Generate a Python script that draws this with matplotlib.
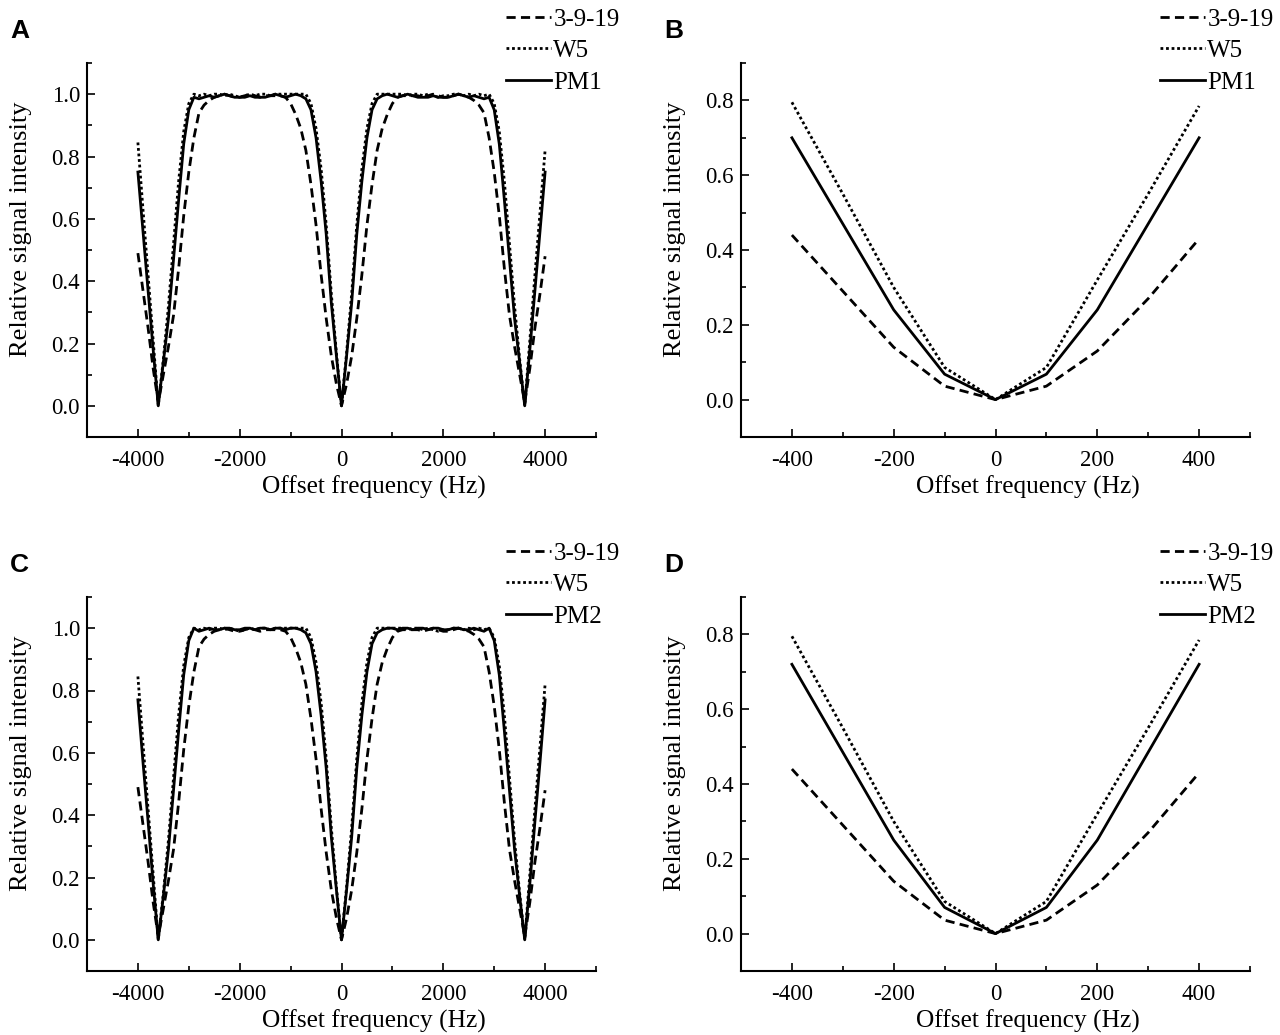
import numpy as np
import matplotlib.pyplot as plt
from matplotlib.ticker import MultipleLocator

plt.rcParams['font.family'] = ['Liberation Serif', 'DejaVu Serif']
plt.rcParams['axes.unicode_minus'] = False

# offset grid for the wide sweeps (Hz)
freq_wide = np.arange(-4000, 4001, 100)

sig_3919_wide = [
    0.49, 0.37, 0.25, 0.12, 0.01, 0.10, 0.19, 0.29, 0.44, 0.61,
    0.75, 0.86, 0.94, 0.965, 0.98, 0.99, 0.995, 1.0, 0.995, 0.99,
    0.99, 0.995, 1.0, 0.995, 0.99, 0.995, 0.995, 0.995, 0.995, 0.99,
    0.97, 0.935, 0.89, 0.82, 0.71, 0.58, 0.42, 0.28, 0.16, 0.07,
    0.0,
    0.07, 0.16, 0.28, 0.42, 0.58, 0.71, 0.82, 0.89, 0.935, 0.97,
    0.99, 0.995, 0.995, 0.995, 0.995, 0.99, 0.995, 1.0, 0.995, 0.99,
    0.99, 0.995, 1.0, 0.995, 0.99, 0.98, 0.965, 0.94, 0.86, 0.75,
    0.61, 0.44, 0.29, 0.19, 0.10, 0.01, 0.12, 0.25, 0.36, 0.48,
]
sig_w5_wide = [
    0.845, 0.63, 0.42, 0.21, 0.0, 0.15, 0.32, 0.52, 0.72, 0.88,
    0.97, 1.0, 0.995, 1.0, 0.995, 1.0, 1.0, 0.995, 1.0, 0.995,
    0.99, 0.995, 1.0, 0.995, 1.0, 1.0, 0.995, 1.0, 1.0, 1.0,
    1.0, 1.0, 1.0, 1.0, 0.97, 0.89, 0.76, 0.58, 0.36, 0.17,
    0.0,
    0.17, 0.36, 0.58, 0.76, 0.89, 0.97, 1.0, 1.0, 1.0, 1.0,
    1.0, 1.0, 0.995, 1.0, 1.0, 0.995, 1.0, 0.995, 0.99, 0.995,
    0.995, 1.0, 1.0, 0.995, 1.0, 0.995, 1.0, 0.995, 1.0, 0.97,
    0.88, 0.72, 0.52, 0.32, 0.15, 0.0, 0.21, 0.42, 0.62, 0.82,
]
sig_pm1_wide = [
    0.75, 0.56, 0.37, 0.18, 0.0, 0.14, 0.28, 0.47, 0.66, 0.84,
    0.95, 0.99, 0.985, 0.99, 0.995, 0.99, 0.995, 1.0, 0.995, 0.99,
    0.99, 0.99, 0.995, 0.99, 0.99, 0.99, 0.995, 1.0, 0.995, 0.99,
    0.995, 1.0, 0.995, 0.985, 0.95, 0.86, 0.72, 0.55, 0.33, 0.16,
    0.0,
    0.16, 0.33, 0.55, 0.72, 0.86, 0.95, 0.985, 0.995, 1.0, 0.995,
    0.99, 0.995, 1.0, 0.995, 0.99, 0.99, 0.99, 0.995, 0.99, 0.99,
    0.99, 0.995, 1.0, 0.995, 0.99, 0.995, 0.99, 0.985, 0.99, 0.95,
    0.84, 0.66, 0.47, 0.28, 0.14, 0.0, 0.18, 0.37, 0.56, 0.75,
]
sig_pm2_wide = [
    0.77, 0.57, 0.38, 0.18, 0.0, 0.14, 0.29, 0.48, 0.67, 0.85,
    0.96, 1.0, 0.99, 0.995, 1.0, 0.995, 0.995, 1.0, 1.0, 0.995,
    0.995, 1.0, 1.0, 0.995, 1.0, 1.0, 0.995, 1.0, 1.0, 0.995,
    1.0, 1.0, 0.995, 0.985, 0.95, 0.86, 0.72, 0.55, 0.33, 0.16,
    0.0,
    0.16, 0.33, 0.55, 0.72, 0.86, 0.95, 0.985, 0.995, 1.0, 1.0,
    0.995, 1.0, 1.0, 0.995, 1.0, 1.0, 0.995, 1.0, 1.0, 0.995,
    0.995, 1.0, 1.0, 0.995, 0.995, 1.0, 0.995, 0.99, 1.0, 0.96,
    0.85, 0.67, 0.48, 0.29, 0.14, 0.0, 0.18, 0.38, 0.57, 0.77,
]

# narrow sweeps (Hz)
freq_narrow = [-400, -300, -200, -100, 0, 100, 200, 300, 400]
sig_3919_narrow = [0.44, 0.29, 0.14, 0.036, 0.0, 0.036, 0.13, 0.27, 0.43]
sig_w5_narrow = [0.795, 0.55, 0.30, 0.086, 0.0, 0.086, 0.32, 0.55, 0.785]
sig_pm1_narrow = [0.70, 0.47, 0.24, 0.068, 0.0, 0.068, 0.24, 0.47, 0.70]
sig_pm2_narrow = [0.72, 0.485, 0.25, 0.07, 0.0, 0.07, 0.25, 0.485, 0.72]

W, H = 1280, 1035
fig = plt.figure(figsize=(W / 100, H / 100), dpi=100)


def box(l, t, r, b):
    return [l / W, 1 - b / H, (r - l) / W, (b - t) / H]


def panel(rect, letter, x, s3919, sw5, spm, pm_name, wide):
    ax = fig.add_axes(rect)
    lw = 2.0
    ax.plot(x, s3919, color='black', lw=lw, dashes=(3.3, 1.9), label='3-9-19')
    ax.plot(x, sw5, color='black', lw=lw, dashes=(1.0, 1.0), label='W5')
    ax.plot(x, spm, color='black', lw=lw, label=pm_name)
    if wide:
        ax.set_xlim(-5000, 5000)
        ax.set_ylim(-0.1, 1.1)
        ax.xaxis.set_major_locator(MultipleLocator(2000))
        ax.xaxis.set_minor_locator(MultipleLocator(1000))
        ax.set_yticks([0.0, 0.2, 0.4, 0.6, 0.8, 1.0])
    else:
        ax.set_xlim(-500, 500)
        ax.set_ylim(-0.1, 0.9)
        ax.xaxis.set_major_locator(MultipleLocator(200))
        ax.xaxis.set_minor_locator(MultipleLocator(100))
        ax.set_yticks([0.0, 0.2, 0.4, 0.6, 0.8])
    ax.yaxis.set_minor_locator(MultipleLocator(0.1))
    ax.yaxis.set_major_formatter(plt.FormatStrFormatter('%.1f'))
    ax.spines['top'].set_visible(False)
    ax.spines['right'].set_visible(False)
    ax.spines['left'].set_linewidth(1.5)
    ax.spines['bottom'].set_linewidth(1.5)
    ax.tick_params(which='both', direction='in', width=1.2, labelsize=16.5)
    ax.tick_params(axis='y', pad=5)
    ax.tick_params(axis='x', pad=9)
    ax.tick_params(which='major', length=6)
    ax.tick_params(which='minor', length=3.6)
    ax.set_xlabel('Offset frequency (Hz)', fontsize=18.3)
    ax.set_ylabel('Relative signal intensity', fontsize=19)
    # labels sit off-centre in the original layout
    ax.xaxis.set_label_coords(0.564, -0.104)
    ax.yaxis.set_label_coords(-0.108, 0.556)
    ax.legend(loc='upper left', bbox_to_anchor=(0.823, 1.147), frameon=False,
              fontsize=18, handlelength=1.8, handletextpad=0.1,
              labelspacing=0.36, borderpad=0, borderaxespad=0)
    fig.text(rect[0] - 77 / W, rect[1] + rect[3] + 32 / H, letter,
             family='Liberation Sans', fontweight='bold', fontsize=19,
             ha='left', va='center')
    return ax


panel(box(87, 63, 596, 437), 'A', freq_wide, sig_3919_wide, sig_w5_wide,
      sig_pm1_wide, 'PM1', True)
panel(box(741, 63, 1250, 437), 'B', freq_narrow, sig_3919_narrow, sig_w5_narrow,
      sig_pm1_narrow, 'PM1', False)
panel(box(87, 597, 596, 971), 'C', freq_wide, sig_3919_wide, sig_w5_wide,
      sig_pm2_wide, 'PM2', True)
panel(box(741, 597, 1250, 971), 'D', freq_narrow, sig_3919_narrow, sig_w5_narrow,
      sig_pm2_narrow, 'PM2', False)

fig.savefig('out.png', dpi=100)
